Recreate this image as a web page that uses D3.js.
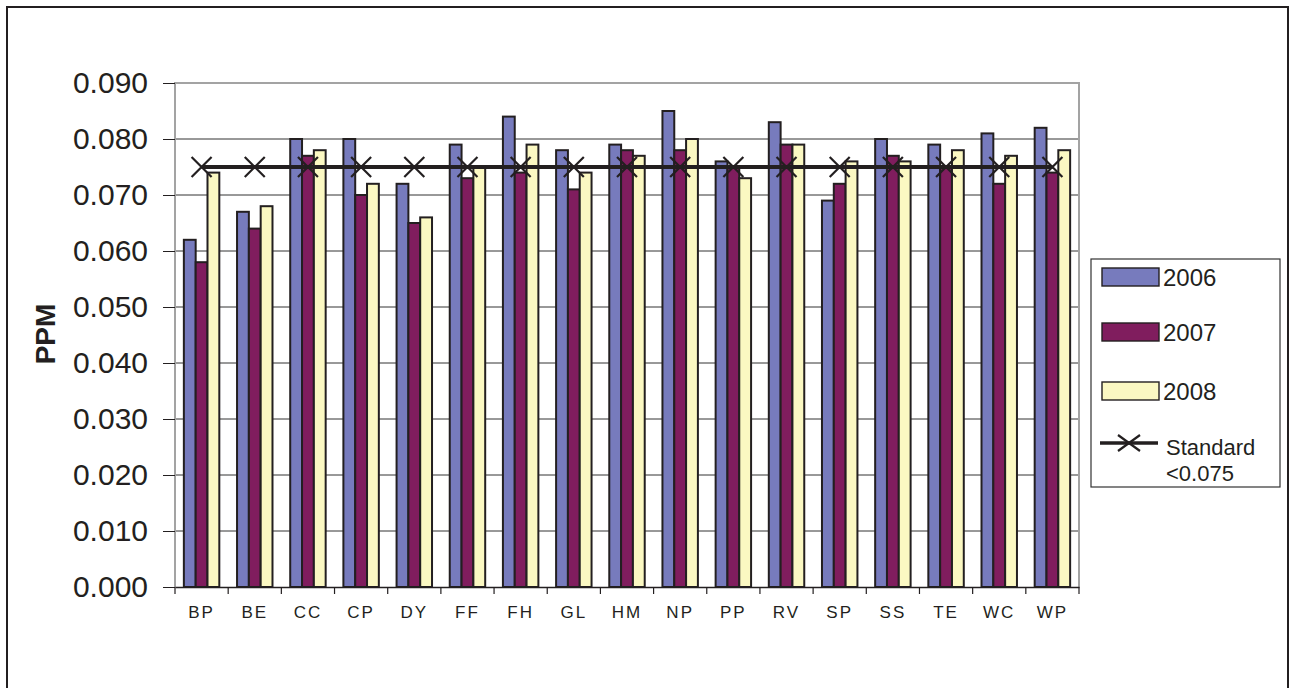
<!DOCTYPE html>
<html>
<head>
<meta charset="utf-8">
<script src="https://cdn.jsdelivr.net/npm/d3@7"></script>
<style>
  body { margin: 0; background: #fff; }
  text { font-family: "Liberation Sans", Arial, sans-serif; fill: #231f20; }
</style>
</head>
<body>
<svg></svg>
<script>
var width = 1291,
    height = 688;

var svg = d3.select("svg")
    .attr("width", width)
    .attr("height", height);

// Values (ppm).
var sites = ["BP", "BE", "CC", "CP", "DY", "FF", "FH", "GL", "HM",
             "NP", "PP", "RV", "SP", "SS", "TE", "WC", "WP"];
var years = ["2006", "2007", "2008"];
var values2006 = [0.062, 0.067, 0.080, 0.080, 0.072, 0.079, 0.084, 0.078, 0.079,
                  0.085, 0.076, 0.083, 0.069, 0.080, 0.079, 0.081, 0.082];
var values2007 = [0.058, 0.064, 0.077, 0.070, 0.065, 0.073, 0.074, 0.071, 0.078,
                  0.078, 0.075, 0.079, 0.072, 0.077, 0.075, 0.072, 0.074];
var values2008 = [0.074, 0.068, 0.078, 0.072, 0.066, 0.075, 0.079, 0.074, 0.077,
                  0.080, 0.073, 0.079, 0.076, 0.076, 0.078, 0.077, 0.078];
var standard = [0.075, 0.075, 0.075, 0.075, 0.075, 0.075, 0.075, 0.075, 0.075,
                0.075, 0.075, 0.075, 0.075, 0.075, 0.075, 0.075, 0.075];
var yTicks = [0, 0.01, 0.02, 0.03, 0.04, 0.05, 0.06, 0.07, 0.08, 0.09];

var colors = ["#777bbd", "#801d5e", "#fbf8c2"];
var series = [values2006, values2007, values2008];

var plot = { left: 175, right: 1079, top: 83, bottom: 587 };

// outer frame
svg.append("rect")
    .attr("x", 7).attr("y", 7)
    .attr("width", 1281).attr("height", 700)
    .attr("fill", "none")
    .attr("stroke", "#231f20")
    .attr("stroke-width", 2);

var x = d3.scaleBand()
    .domain(sites)
    .range([plot.left, plot.right]);

var x1 = d3.scaleBand()
    .domain(years)
    .range([0, x.bandwidth()])
    .paddingInner(0)
    .paddingOuter(0.75);

var y = d3.scaleLinear()
    .domain([0, 0.09])
    .range([plot.bottom, plot.top]);

// gridlines
svg.append("g")
    .selectAll("line")
    .data(yTicks.slice(1, -1))
  .enter().append("line")
    .attr("x1", plot.left).attr("x2", plot.right)
    .attr("y1", function(d) { return y(d); })
    .attr("y2", function(d) { return y(d); })
    .attr("stroke", "#333")
    .attr("stroke-width", 1);

// plot frame top / right / left
svg.append("path")
    .attr("d", "M" + plot.left + "," + plot.bottom + "V" + plot.top + "H" + plot.right + "V" + plot.bottom)
    .attr("fill", "none")
    .attr("stroke", "#a3a3a3")
    .attr("stroke-width", 2);

// bars
series.forEach(function(vals, i) {
  svg.append("g")
      .selectAll("rect")
      .data(vals)
    .enter().append("rect")
      .attr("x", function(d, j) { return x(sites[j]) + x1(years[i]); })
      .attr("y", function(d) { return y(d); })
      .attr("width", x1.bandwidth())
      .attr("height", function(d) { return y(0) - y(d); })
      .attr("fill", colors[i])
      .attr("stroke", "#231f20")
      .attr("stroke-width", 2);
});

// y axis
var yAxis = svg.append("g")
    .attr("transform", "translate(" + plot.left + ",0)")
    .call(d3.axisLeft(y).tickValues(yTicks).tickFormat(d3.format(".3f")).tickSize(12).tickPadding(15));
yAxis.select(".domain").remove();
yAxis.selectAll(".tick line").attr("stroke", "#231f20");
yAxis.selectAll("text")
    .attr("font-size", 30)
    .attr("font-family", "Liberation Sans, Arial, sans-serif")
    .attr("fill", "#231f20");

// x axis
var xAxis = svg.append("g")
    .attr("transform", "translate(0," + plot.bottom + ")")
    .call(d3.axisBottom(x).tickSize(0).tickPadding(19));
xAxis.select(".domain")
    .attr("stroke", "#231f20")
    .attr("stroke-width", 1.5);
xAxis.selectAll("text")
    .attr("font-size", 17)
    .attr("letter-spacing", 2)
    .attr("font-family", "Liberation Sans, Arial, sans-serif")
    .attr("fill", "#231f20");

// category boundary ticks
xAxis.append("g")
    .selectAll("line")
    .data(sites.concat(["end"]))
  .enter().append("line")
    .attr("x1", function(d, i) { return plot.left + i * x.step(); })
    .attr("x2", function(d, i) { return plot.left + i * x.step(); })
    .attr("y1", 0).attr("y2", 7)
    .attr("stroke", "#231f20")
    .attr("stroke-width", 1.2);

// y axis title
svg.append("text")
    .attr("transform", "translate(55,334) rotate(-90)")
    .attr("text-anchor", "middle")
    .attr("font-size", 28)
    .attr("font-weight", "bold")
    .text("PPM");

// standard line with X markers
var line = d3.line()
    .x(function(d, i) { return x(sites[i]) + x.bandwidth() / 2; })
    .y(function(d) { return y(d); });

svg.append("path")
    .datum(standard)
    .attr("d", line)
    .attr("fill", "none")
    .attr("stroke", "#231f20")
    .attr("stroke-width", 4);

function cross(g, cx, cy, w, h) {
  g.append("path")
      .attr("d", "M" + (cx - w / 2) + "," + (cy - h / 2) + "L" + (cx + w / 2) + "," + (cy + h / 2) +
                 "M" + (cx - w / 2) + "," + (cy + h / 2) + "L" + (cx + w / 2) + "," + (cy - h / 2))
      .attr("stroke", "#231f20")
      .attr("stroke-width", 2.2)
      .attr("fill", "none");
}

var markers = svg.append("g");
standard.forEach(function(d, i) {
  cross(markers, x(sites[i]) + x.bandwidth() / 2, y(d), 20, 20);
});

// legend
var legend = svg.append("g");
legend.append("rect")
    .attr("x", 1091).attr("y", 259)
    .attr("width", 189).attr("height", 228)
    .attr("fill", "#fff")
    .attr("stroke", "#333")
    .attr("stroke-width", 1.2);

var legendY = [277, 332, 391];
years.forEach(function(yr, i) {
  legend.append("rect")
      .attr("x", 1102).attr("y", legendY[i] - 9)
      .attr("width", 57).attr("height", 18)
      .attr("fill", colors[i])
      .attr("stroke", "#231f20")
      .attr("stroke-width", 1.4);
  legend.append("text")
      .attr("x", 1163).attr("y", legendY[i] + 9)
      .attr("font-size", 24)
      .text(yr);
});

legend.append("line")
    .attr("x1", 1100).attr("x2", 1158)
    .attr("y1", 443).attr("y2", 443)
    .attr("stroke", "#231f20")
    .attr("stroke-width", 3.5);
cross(legend, 1129, 443, 22, 16);

legend.append("text")
    .attr("x", 1166).attr("y", 455)
    .attr("font-size", 22)
    .text("Standard");
legend.append("text")
    .attr("x", 1166).attr("y", 481)
    .attr("font-size", 22)
    .text("<0.075");
</script>
</body>
</html>
